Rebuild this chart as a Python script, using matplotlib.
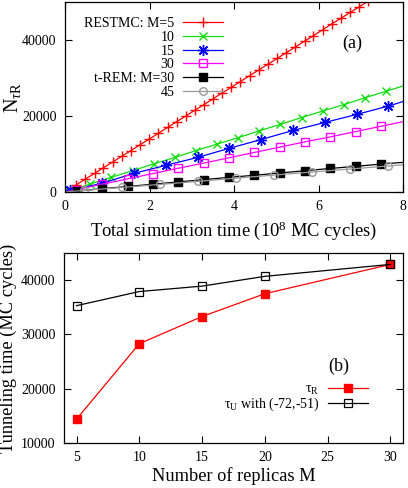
import numpy as np
import matplotlib
matplotlib.use("Agg")
import matplotlib.pyplot as plt
from matplotlib.lines import Line2D

plt.rcParams['font.family'] = ['Liberation Serif', 'DejaVu Serif']
plt.rcParams['mathtext.fontset'] = 'custom'
plt.rcParams['mathtext.rm'] = 'Liberation Serif'
plt.rcParams['mathtext.it'] = 'Liberation Serif:italic'

# ---- panel (a): N_tauR vs total simulation time ----
restmc5_x = [0.05, 0.27, 0.48, 0.70, 0.91, 1.13, 1.35, 1.56, 1.78, 1.99, 2.21, 2.43,
             2.64, 2.86, 3.07, 3.29, 3.51, 3.72, 3.94, 4.15, 4.37, 4.59, 4.80, 5.02,
             5.23, 5.45, 5.67, 5.88, 6.10, 6.31, 6.53, 6.75, 6.96, 7.18, 7.39]
restmc5_y = [350, 1900, 3400, 4900, 6400, 7900, 9450, 10900, 12450, 13900, 15450, 17000,
             18500, 20000, 21500, 23000, 24550, 26050, 27600, 29050, 30600, 32150, 33600, 35150,
             36600, 38150, 39700, 41150, 42700, 44200, 45700, 47250, 48700, 50250, 51750]

restmc10_x = [0.1, 0.6, 1.1, 1.6, 2.1, 2.6, 3.1, 3.6, 4.1, 4.6, 5.1, 5.6, 6.1, 6.6, 7.1, 7.6]
restmc10_y = [350, 2100, 3900, 5600, 7400, 9100, 10900, 12600, 14300, 16100, 17800, 19600,
              21300, 23000, 24800, 26500]

restmc15_x = [0.12, 0.88, 1.63, 2.38, 3.14, 3.89, 4.64, 5.40, 6.15, 6.90, 7.65]
restmc15_y = [450, 2300, 4900, 7000, 9100, 11500, 13800, 16200, 18300, 20400, 22600]

restmc30_x = [0.28, 0.88, 1.48, 2.08, 2.68, 3.28, 3.88, 4.48, 5.08, 5.68, 6.28, 6.88, 7.48]
restmc30_y = [650, 2050, 3450, 4850, 6250, 7600, 9000, 10400, 11800, 13200, 14500, 15900, 17300]

trem30_x = [0.28, 0.88, 1.48, 2.08, 2.68, 3.28, 3.88, 4.48, 5.08, 5.68, 6.28, 6.88, 7.48]
trem30_y = [280, 870, 1450, 2050, 2650, 3250, 3850, 4400, 5000, 5600, 6200, 6750, 7350]

trem45_x = [0.45, 1.35, 2.25, 3.15, 4.05, 4.95, 5.85, 6.75, 7.65]
trem45_y = [400, 1200, 2000, 2800, 3650, 4450, 5250, 6050, 6850]

# line values at the right edge (x = 8)
end_x = 8.0
end_y = [57000, 27900, 23800, 18500, 7800, 7150]

labels_a = ['RESTMC: M=5', '10', '15', '30', 't-REM: M=30', '45']

# ---- panel (b): tunneling time vs number of replicas ----
replicas = [5, 10, 15, 20, 30]
tau_r = [14400, 28300, 33300, 37500, 42900]
tau_u = [35300, 37900, 38900, 40700, 42900]

fig = plt.figure(figsize=(4.08, 4.88), dpi=100)
ax1 = fig.add_axes([65/408, 296/488, 338/408, 190/488])
ax2 = fig.add_axes([64/408, 45/488, 339/408, 190/488])

styles = [
    dict(color='#ff0000', marker='+', ms=7, mfc='#ff0000'),
    dict(color='#11dd11', marker='x', ms=5.5, mfc='#11dd11'),
    dict(color='#0000ff', marker=(8, 2, 0), ms=8, mfc='#0000ff'),
    dict(color='#ff00ff', marker='s', ms=5.5, mfc='none'),
    dict(color='#000000', marker='s', ms=5.5, mfc='#000000'),
    dict(color='#999999', marker='o', ms=5.5, mfc='none'),
]
series = [(restmc5_x, restmc5_y), (restmc10_x, restmc10_y), (restmc15_x, restmc15_y),
          (restmc30_x, restmc30_y), (trem30_x, trem30_y), (trem45_x, trem45_y)]

handles = []
for (xs, ys), ye, st, lab in zip(series, end_y, styles, labels_a):
    ax1.plot([0] + xs + [end_x], [0] + ys + [ye], '-', color=st['color'], lw=0.9)
    ax1.plot(xs, ys, ls='none', marker=st['marker'], ms=st['ms'], mew=1.0,
             mec=st['color'], mfc=st['mfc'])
    handles.append(Line2D([], [], color=st['color'], lw=0.9, marker=st['marker'],
                          ms=st['ms'], mew=1.0, mec=st['color'], mfc=st['mfc']))

ax1.set_xlim(0, 8)
ax1.set_ylim(0, 50000)
ax1.set_xticks([0, 2, 4, 6, 8])
ax1.set_yticks([0, 20000, 40000])
ax1.set_xlabel(r'Total simulation time (10$^{8}$ MC cycles)', fontsize=13.3, va='top')
ax1.xaxis.set_label_coords(0.5, -0.145)
ax1.set_ylabel(r'N$_{\tau\mathrm{R}}$', fontsize=14.5)
ax1.yaxis.set_label_coords(-0.125, 0.5)
ax1.text(0.849, 0.784, '(a)', transform=ax1.transAxes, fontsize=13, ha='center', va='center')
ax1.legend(handles, labels_a, loc='upper right', bbox_to_anchor=(0.467, 0.92),
           markerfirst=False, frameon=False, fontsize=10, handlelength=2.9,
           labelspacing=0.05, handletextpad=0.6, borderpad=0, borderaxespad=0)

ax2.plot(replicas, tau_r, '-', color='#ff0000', lw=0.9, marker='s', ms=5.5,
         mfc='#ff0000', mec='#ff0000', label='τ$_\\mathrm{R}$')
ax2.plot(replicas, tau_u, '-', color='#000000', lw=0.9, marker='s', ms=5.5,
         mfc='none', mec='#000000', mew=0.9, label='τ$_\\mathrm{U}$ with (-72,-51)')
ax2.set_xlim(4, 31)
ax2.set_ylim(10000, 45000)
ax2.set_xticks([5, 10, 15, 20, 25, 30])
ax2.set_yticks([10000, 20000, 30000, 40000])
ax2.set_xlabel('Number of replicas M', fontsize=13.2, va='top')
ax2.xaxis.set_label_coords(0.5, -0.125)
ax2.set_ylabel('Tunneling time (MC cycles)', fontsize=13.2)
ax2.yaxis.set_label_coords(-0.139, 0.5)
ax2.text(0.81, 0.405, '(b)', transform=ax2.transAxes, fontsize=13, ha='center', va='center')
ax2.legend(loc='upper right', bbox_to_anchor=(0.897, 0.315), markerfirst=False,
           frameon=False, fontsize=10, handlelength=2.9, labelspacing=-0.1,
           handletextpad=0.6, borderpad=0, borderaxespad=0)

for ax in (ax1, ax2):
    ax.tick_params(direction='in', top=True, right=True, length=5, width=0.8,
                   labelsize=10, pad=6)
    for sp in ax.spines.values():
        sp.set_linewidth(0.9)

fig.savefig('out.png', dpi=100)
